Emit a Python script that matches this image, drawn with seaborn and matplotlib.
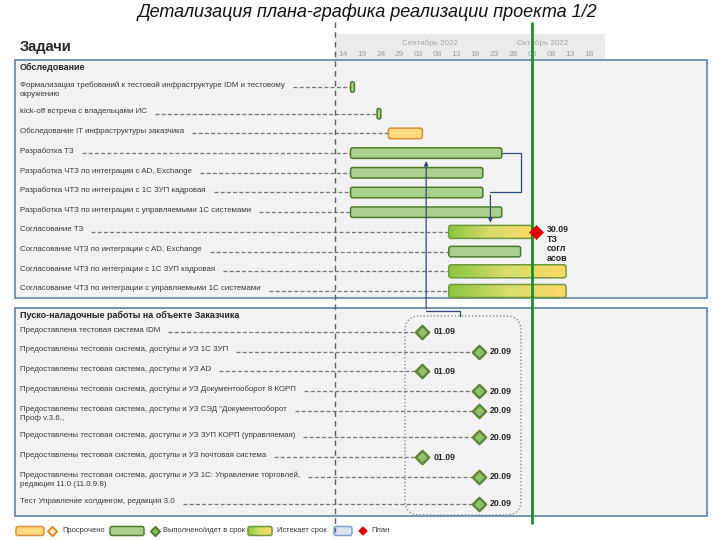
import numpy as np
import pandas as pd
import matplotlib
matplotlib.use("Agg")
import matplotlib.pyplot as plt
import seaborn as sns
from matplotlib.patches import FancyBboxPatch, Rectangle
from matplotlib.colors import LinearSegmentedColormap

# ---------------- data ----------------
survey_tasks = [
    "Формализация требований к тестовой инфраструктуре IDM и тестовому\nокружению",
    "kick-off встреча с владельцами ИС",
    "Обследование IT инфраструктуры заказчика",
    "Разработка ТЗ",
    "Разработка ЧТЗ по интеграции с AD, Exchange",
    "Разработка ЧТЗ по интеграции с 1С ЗУП кадровая",
    "Разработка ЧТЗ по интеграции с управляемыми 1С системами",
    "Согласование ТЗ",
    "Согласование ЧТЗ по интеграции с AD, Exchange",
    "Согласование ЧТЗ по интеграции с 1С ЗУП кадровая",
    "Согласование ЧТЗ по интеграции с управляемыми 1С системами",
]
survey_start = ["2022-08-16", "2022-08-23", "2022-08-26", "2022-08-16", "2022-08-16", "2022-08-16",
                "2022-08-16", "2022-09-11", "2022-09-11", "2022-09-11", "2022-09-11"]
survey_end = ["2022-08-17", "2022-08-24", "2022-09-04", "2022-09-25", "2022-09-20", "2022-09-20",
              "2022-09-25", "2022-10-03", "2022-09-30", "2022-10-12", "2022-10-12"]
survey_status = ["done", "done", "late", "done", "done", "done", "done",
                 "expiring", "done", "expiring", "expiring"]

setup_tasks = [
    "Предоставлена тестовая система IDM",
    "Предоставлены тестовая система, доступы и УЗ 1С ЗУП",
    "Предоставлены тестовая система, доступы и УЗ AD",
    "Предоставлены тестовая система, доступы и УЗ Документооборот 8 КОРП",
    "Предоставлены тестовая система, доступы и УЗ СЭД \"Документооборот\nПроф v.3.6,,",
    "Предоставлены тестовая система, доступы и УЗ ЗУП КОРП (управляемая)",
    "Предоставлены тестовая система, доступы и УЗ почтовая система",
    "Предоставлены тестовая система, доступы и УЗ 1С: Управление торговлей,\nредакция 11.0 (11.0.9.8)",
    "Тест Управление холдингом, редакция 3.0",
]
setup_dates = ["2022-09-04", "2022-09-19", "2022-09-04", "2022-09-19", "2022-09-19",
               "2022-09-19", "2022-09-04", "2022-09-19", "2022-09-19"]
setup_labels = ["01.09", "20.09", "01.09", "20.09", "20.09", "20.09", "01.09", "20.09", "20.09"]

plan_task = "Согласование ТЗ"
plan_date = "2022-10-04"
plan_label = "30.09\nТЗ\nсогл\nасов"
today = "2022-10-03"

tick_dates = ["2022-08-14", "2022-08-19", "2022-08-24", "2022-08-29", "2022-09-03", "2022-09-08",
              "2022-09-13", "2022-09-18", "2022-09-23", "2022-09-28", "2022-10-03", "2022-10-08",
              "2022-10-13", "2022-10-18"]
tick_labels = ["14", "19", "24", "29", "03", "08", "13", "18", "23", "28", "03", "08", "13", "18"]
months = ["Сентябрь 2022", "Октябрь 2022"]

# ---------------- layout helpers ----------------
ORIGIN = pd.Timestamp("2022-08-14")
PXD = 3.78          # pixels per day
X0 = 343            # pixel of origin


def day(d):
    return (pd.Timestamp(d) - ORIGIN) / pd.Timedelta(days=1)


def px(p):
    return (p - X0) / PXD


def rows(first, labels, step=19.7, extra=7):
    ys = [first]
    for lab in labels[:-1]:
        ys.append(ys[-1] + step + (extra if "\n" in lab else 0))
    return ys


sns.set_theme(style="white")
plt.rcParams["font.family"] = ["Liberation Sans", "DejaVu Sans"]

fig = plt.figure(figsize=(7.2, 5.4), dpi=100)
ax = fig.add_axes([0, 0, 1, 1])
ax.set_xlim(px(0), px(720))
ax.set_ylim(540, 0)
ax.axis("off")

cmap = LinearSegmentedColormap.from_list("exp", ["#8cc63f", "#d8dd6c", "#ffd966"])
STYLE = {"done": ("#a9d18e", "#4f7a2c"), "late": ("#ffd97f", "#d9903a"),
         "expiring": (None, "#6f9a3c"), "plan": ("#dae3f3", "#7f9fcf")}


def rbar(x0, x1, yc, h, status, z=3):
    w = x1 - x0
    r = min(2.2 / PXD, w / 2)
    fc, ec = STYLE[status]
    box = FancyBboxPatch((x0, yc - h / 2), w, h, boxstyle=f"round,pad=0,rounding_size={r}",
                         mutation_aspect=PXD, fc=fc if fc else "none", ec=ec, lw=1.1, zorder=z)
    ax.add_patch(box)
    if status == "expiring":
        im = ax.imshow(np.linspace(0, 1, 256)[None, :], cmap=cmap, aspect="auto",
                       extent=(x0, x1, yc + h / 2, yc - h / 2), zorder=z - 0.1)
        im.set_clip_path(box)
    return box


# title and section header
fig.text(0.51, 0.977, "Детализация плана-графика реализации проекта 1/2", ha="center", va="center",
         fontsize=13, style="italic", color="#111111")
ax.text(px(20), 47, "Задачи", fontsize=10.5, fontweight="bold", va="center", ha="left")

# timeline header
ax.add_patch(Rectangle((px(335), 34), px(605) - px(335), 26, fc="#ebebeb", ec="none", zorder=1))
ax.text(px(430), 43, months[0], ha="center", va="center", fontsize=5.8, color="#a6a6a6")
ax.text(px(543), 43, months[1], ha="center", va="center", fontsize=5.8, color="#a6a6a6")
for d, lab in zip(tick_dates, tick_labels):
    ax.text(day(d), 54, lab, ha="center", va="center", fontsize=6, color="#a0a0a0")

# panels
for top, bot in [(60, 298), (308, 516)]:
    ax.add_patch(Rectangle((px(15), top), px(707) - px(15), bot - top, fc="#f2f2f2",
                           ec="#6a8db0", lw=1.3, zorder=1))

ax.text(px(20), 67, "Обследование", fontsize=6.5, fontweight="bold", va="center")
ax.text(px(20), 315, "Пуско-наладочные работы на объекте Заказчика", fontsize=6.5,
        fontweight="bold", va="center")

ys1 = rows(87, survey_tasks)
ys2 = rows(332, setup_tasks)

fig.canvas.draw()
rend = fig.canvas.get_renderer()
inv = ax.transData.inverted()


def label(text, y):
    nl = text.count("\n")
    t = ax.text(px(20), y - 2 + 5 * nl, text, fontsize=5.7, va="center", ha="left",
                color="#3a3a3a", linespacing=1.35, zorder=3)
    bb = t.get_window_extent(rend)
    return inv.transform((bb.x1, 0))[0]


dash = dict(ls=(0, (3, 1.7)), color="#7a7a7a", lw=0.95, zorder=2)

bars = {}
for name, s, e, st, y in zip(survey_tasks, survey_start, survey_end, survey_status, ys1):
    xe = label(name, y)
    ax.plot([xe + 8 / PXD, day(s)], [y, y], **dash)
    h = 13 if st == "expiring" else 10.5
    bars[name] = (day(s), day(e), y, h)
    rbar(day(s), day(e), y, h, st)

for name, d, y in zip(setup_tasks, setup_dates, ys2):
    xe = label(name, y)
    ax.plot([xe + 8 / PXD, day(d) - 1.5], [y, y], **dash)

ms = pd.DataFrame({"x": [day(d) for d in setup_dates], "y": ys2})
sns.scatterplot(data=ms, x="x", y="y", marker="D", s=46, color="#93c06a", edgecolor="#5e8535",
                linewidth=1.7, ax=ax, legend=False, zorder=6)
for d, y, lab in zip(setup_dates, ys2, setup_labels):
    ax.annotate(lab, (day(d), y), xytext=(8, 0), textcoords="offset points", va="center",
                fontsize=6.3, fontweight="bold", zorder=6)

# plan diamond
py = bars[plan_task][2]
pl = pd.DataFrame({"x": [day(plan_date)], "y": [py]})
sns.scatterplot(data=pl, x="x", y="y", marker="D", s=50, color="#e00000", edgecolor="#e00000",
                linewidth=0.5, ax=ax, legend=False, zorder=8)
ax.annotate(plan_label, (day(plan_date), py), xytext=(8, 5), textcoords="offset points",
            va="top", ha="left", fontsize=6.3, fontweight="bold", linespacing=1.1, zorder=8)

# dotted group around milestones
grp = FancyBboxPatch((px(405), 316), px(521) - px(405), 199,
                     boxstyle=f"round,pad=0,rounding_size={15 / PXD}", mutation_aspect=PXD,
                     fc="none", ec="#8c8c8c", lw=1, ls=(0, (1, 1.5)), zorder=4)
ax.add_patch(grp)

# dependency connectors
cc = dict(color="#2f4b7c", lw=0.9, zorder=4)
rs, re, ry, rh = bars["Разработка ТЗ"]
ss, se, sy, sh = bars["Согласование ТЗ"]
xr, xm = day("2022-09-30"), day("2022-09-22")
ax.plot([re, xr, xr, xm], [ry, ry, ys1[5], ys1[5]], **cc)
ax.annotate("", (xm, sy - sh / 2), (xm, ys1[5]),
            arrowprops=dict(arrowstyle="-|>", color="#2f4b7c", lw=0.9, mutation_scale=6), zorder=4)
xa, xb = day("2022-09-14"), day("2022-09-05")
ax.plot([xa, xa, xb], [316, 311, 311], **cc)
ax.annotate("", (xb, ry + rh / 2), (xb, 311),
            arrowprops=dict(arrowstyle="-|>", color="#2f4b7c", lw=0.9, mutation_scale=6), zorder=4)

# vertical markers
ax.plot([px(335), px(335)], [22, 532], ls=(0, (4, 3)), color="#606060", lw=1, zorder=5)
ax.plot([day(today), day(today)], [23, 523], color="#16902a", lw=2, zorder=7)

# legend
ly = 531
rbar(px(16), px(44), ly, 9, "late")
ax.scatter([px(52)], [ly], marker="D", s=22, color="#fff2cc", edgecolor="#e2892f", lw=1.4, zorder=6)
ax.text(px(62), ly, "Просрочено", fontsize=5.4, va="center", color="#333333")
rbar(px(110), px(144), ly, 9, "done")
ax.scatter([px(155)], [ly], marker="D", s=22, color="#8fbc5f", edgecolor="#4f7a2b", lw=1.4, zorder=6)
ax.text(px(163), ly, "Выполнено/идет в срок", fontsize=5.4, va="center", color="#333333")
rbar(px(248), px(272), ly, 9, "expiring")
ax.text(px(277), ly, "Истекает срок", fontsize=5.4, va="center", color="#333333")
rbar(px(334), px(352), ly, 9, "plan")
ax.scatter([px(363)], [ly], marker="D", s=24, color="#e00000", edgecolor="none", zorder=6)
ax.text(px(371), ly, "План", fontsize=5.4, va="center", color="#333333")

ax.set_xlim(px(0), px(720))
ax.set_ylim(540, 0)
ax.set_aspect("auto")
fig.savefig("out.png", dpi=100)
plt.close(fig)
